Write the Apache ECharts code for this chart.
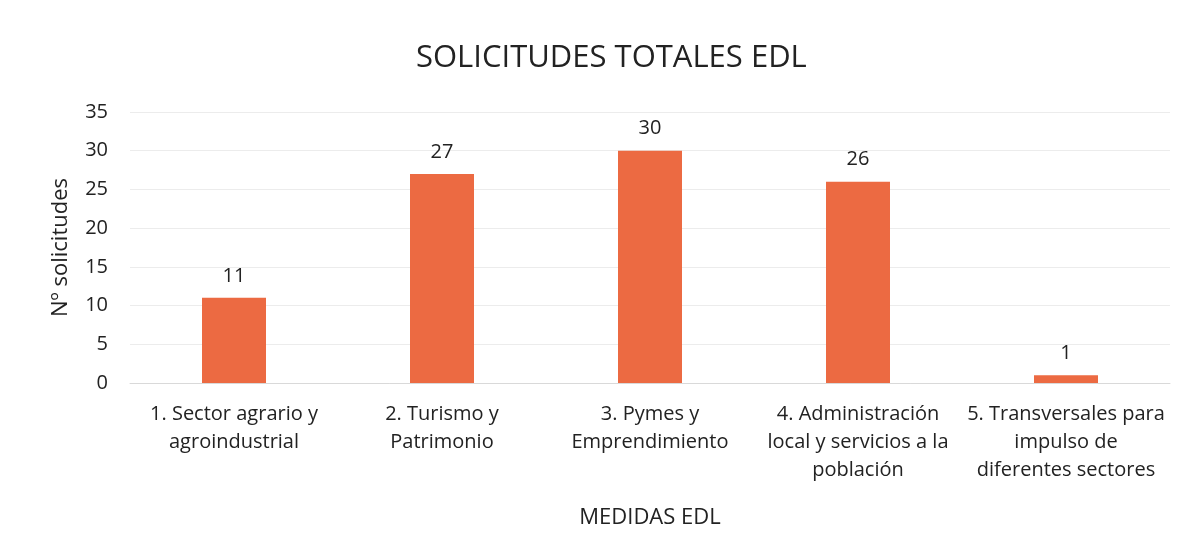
<!DOCTYPE html>
<html>
<head>
<meta charset="utf-8">
<script src="https://cdn.jsdelivr.net/npm/echarts@6/dist/echarts.min.js"></script>
<style>
  html, body { margin: 0; padding: 0; background: #fff; }
  #main { width: 1187px; height: 555px; }
</style>
</head>
<body>
<div id="main"></div>
<script>
var categories = [
    '1. Sector agrario y\nagroindustrial',
    '2. Turismo y\nPatrimonio',
    '3. Pymes y\nEmprendimiento',
    '4. Administración\nlocal y servicios a la\npoblación',
    '5. Transversales para\nimpulso de\ndiferentes sectores'
];
var solicitudes = [11, 27, 30, 26, 1];
var yTicks = [0, 5, 10, 15, 20, 25, 30, 35];

var font = 'Open Sans, Noto Sans, sans-serif';
var myChart = echarts.init(document.getElementById('main'));

var option = {
    animation: false,
    textStyle: { fontFamily: font },
    title: {
        text: 'SOLICITUDES TOTALES EDL',
        left: 411,
        top: 38,
        textStyle: { fontSize: 31, fontWeight: 'normal', color: '#222', fontFamily: font }
    },
    grid: { left: 130, right: 17, top: 112, bottom: 172 },
    xAxis: {
        type: 'category',
        data: categories,
        name: 'MEDIDAS EDL',
        nameLocation: 'middle',
        nameGap: 124,
        nameTextStyle: { fontSize: 22, color: '#222' },
        axisLine: { show: true, lineStyle: { color: '#d9d9d9' } },
        axisTick: { show: false },
        axisLabel: { fontSize: 20, color: '#222', lineHeight: 28, margin: 17, interval: 0 }
    },
    yAxis: {
        type: 'value',
        min: yTicks[0],
        max: yTicks[yTicks.length - 1],
        interval: 5,
        name: 'Nº solicitudes',
        nameLocation: 'middle',
        nameGap: 58,
        nameTextStyle: { fontSize: 22, color: '#222' },
        axisLine: { show: false },
        axisTick: { show: false },
        axisLabel: { fontSize: 20, color: '#222', margin: 22 },
        splitLine: { lineStyle: { color: '#ececec', width: 1 } }
    },
    series: [{
        name: 'Solicitudes',
        type: 'bar',
        data: solicitudes,
        barWidth: 64,
        itemStyle: { color: '#EC6A42' },
        label: {
            show: true,
            position: 'top',
            distance: 12,
            fontSize: 20,
            color: '#222'
        }
    }]
};

myChart.setOption(option);
</script>
</body>
</html>
